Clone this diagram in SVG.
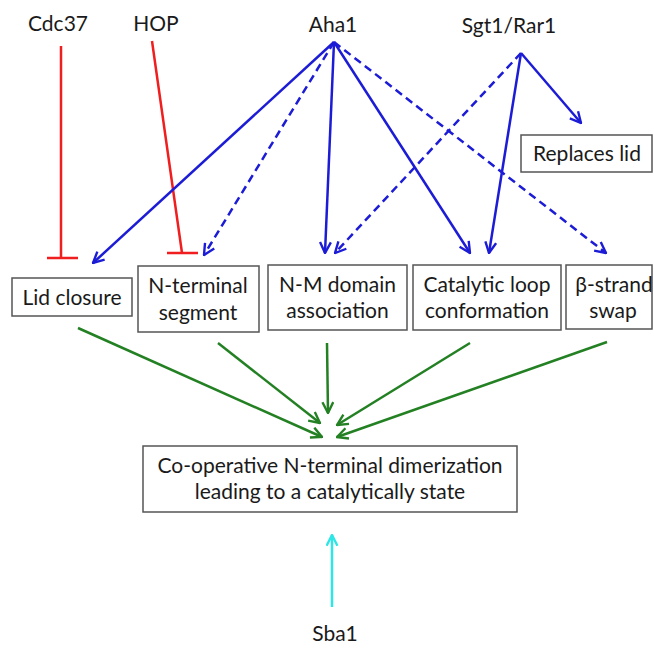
<svg xmlns="http://www.w3.org/2000/svg" width="654" height="648" viewBox="0 0 654 648">
<defs>
<style>
text{font-family:"Lato","Liberation Sans",sans-serif;font-size:21px;fill:#1a1a1a;text-anchor:middle}
.box{fill:#fff;stroke:#555;stroke-width:1.5}
.b{stroke:#1c1cd6;stroke-width:2.5;fill:none}
.d{stroke-dasharray:8 5}
.r{stroke:#f01e1e;stroke-width:2.5;fill:none}
.g{stroke:#238023;stroke-width:2.5;fill:none}
.c{stroke:#2fe6e6;stroke-width:2.5;fill:none}
</style>
<marker id="ab" viewBox="0 0 12 12" refX="11" refY="6" markerWidth="13" markerHeight="13" markerUnits="userSpaceOnUse" orient="auto"><path d="M1,1 L11,6 L1,11" fill="none" stroke="#1c1cd6" stroke-width="2.2"/></marker>
<marker id="ag" viewBox="0 0 12 12" refX="11" refY="6" markerWidth="13" markerHeight="13" markerUnits="userSpaceOnUse" orient="auto"><path d="M1,1 L11,6 L1,11" fill="none" stroke="#238023" stroke-width="2.2"/></marker>
<marker id="ac" viewBox="0 0 12 12" refX="11" refY="6" markerWidth="13" markerHeight="13" markerUnits="userSpaceOnUse" orient="auto"><path d="M1,1 L11,6 L1,11" fill="none" stroke="#2fe6e6" stroke-width="2.2"/></marker>
</defs>
<rect width="654" height="648" fill="#fff"/>
<g id="connectors">
<path class="r" d="M61,46 V258 M47,258 H78"/>
<path class="r" d="M152,41 L182,253 M167,253 H198"/>
<line class="b" x1="334" y1="42" x2="93" y2="263" marker-end="url(#ab)"/>
<line class="b d" x1="334" y1="42" x2="204" y2="255" marker-end="url(#ab)"/>
<line class="b" x1="334" y1="42" x2="325" y2="253" marker-end="url(#ab)"/>
<line class="b" x1="334" y1="42" x2="470" y2="253" marker-end="url(#ab)"/>
<line class="b d" x1="334" y1="42" x2="606" y2="253" marker-end="url(#ab)"/>
<line class="b d" x1="521" y1="53" x2="335" y2="253" marker-end="url(#ab)"/>
<line class="b" x1="521" y1="53" x2="489" y2="253" marker-end="url(#ab)"/>
<line class="b" x1="521" y1="53" x2="581" y2="123" marker-end="url(#ab)"/>
<line class="g" x1="78" y1="328" x2="322" y2="437" marker-end="url(#ag)"/>
<line class="g" x1="218" y1="343" x2="320" y2="423" marker-end="url(#ag)"/>
<line class="g" x1="327" y1="343" x2="328" y2="413" marker-end="url(#ag)"/>
<line class="g" x1="470" y1="343" x2="337" y2="425" marker-end="url(#ag)"/>
<line class="g" x1="607" y1="342" x2="337" y2="437" marker-end="url(#ag)"/>
<line class="c" x1="332" y1="607" x2="332" y2="535" marker-end="url(#ac)"/>
</g>
<g id="cdc37"><text x="58" y="31">Cdc37</text></g>
<g id="hop"><text x="156" y="31">HOP</text></g>
<g id="aha1"><text x="333" y="32">Aha1</text></g>
<g id="sgt1"><text x="509" y="33">Sgt1/Rar1</text></g>
<g id="replaces-lid"><rect class="box" x="521" y="135" width="131" height="37"/><text x="587" y="161">Replaces lid</text></g>
<g id="lid-closure"><rect class="box" x="12" y="278" width="120" height="38"/><text x="72" y="305">Lid closure</text></g>
<g id="n-terminal"><rect class="box" x="138" y="266" width="121" height="66"/><text x="198" y="293">N-terminal</text><text x="198" y="320">segment</text></g>
<g id="nm-domain"><rect class="box" x="268" y="265" width="139" height="65"/><text x="337.5" y="292">N-M domain</text><text x="337.5" y="318">association</text></g>
<g id="catalytic"><rect class="box" x="413" y="265" width="148" height="65"/><text x="487" y="292">Catalytic loop</text><text x="487" y="318">conformation</text></g>
<g id="beta-strand"><rect class="box" x="566" y="265" width="86" height="64"/><text x="614" y="292">β-strand</text><text x="613" y="318">swap</text></g>
<g id="dimerization"><rect class="box" x="143" y="446" width="374" height="66"/><text x="330" y="473">Co-operative N-terminal dimerization</text><text x="330" y="499">leading to a catalytically state</text></g>
<g id="sba1"><text x="335" y="641">Sba1</text></g>
</svg>
